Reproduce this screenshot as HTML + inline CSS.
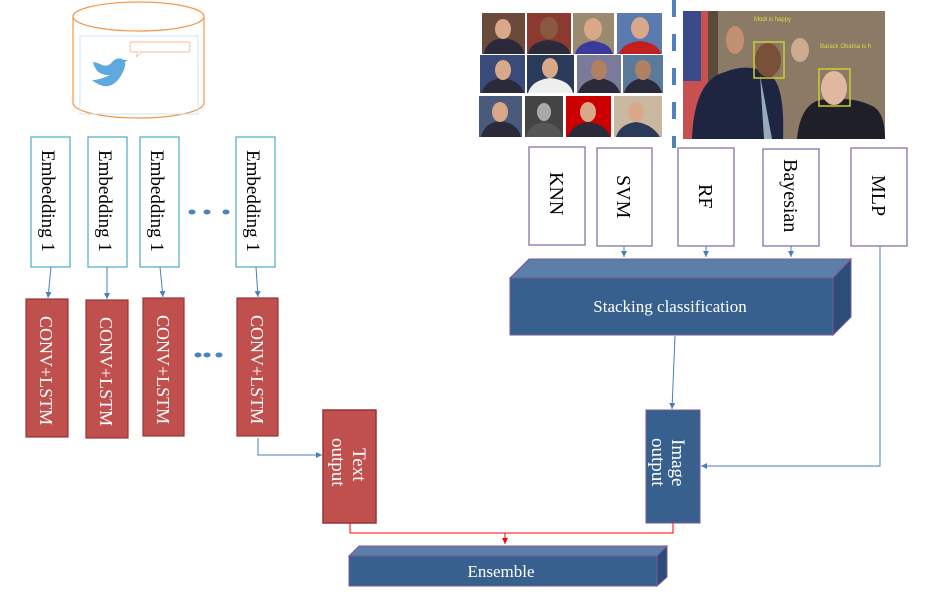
<!DOCTYPE html>
<html><head><meta charset="utf-8"><style>
body{margin:0;background:#fff;width:934px;height:594px;overflow:hidden}
</style></head><body>
<svg width="934" height="594" xmlns="http://www.w3.org/2000/svg" font-family="Liberation Serif, serif">
<defs>
<marker id="a" markerWidth="8" markerHeight="8" refX="6" refY="3" orient="auto" markerUnits="userSpaceOnUse"><path d="M0,0L6,3L0,6z" fill="#4a7ebb"/></marker>
<marker id="r" markerWidth="8" markerHeight="8" refX="6" refY="3" orient="auto" markerUnits="userSpaceOnUse"><path d="M0,0L6,3L0,6z" fill="#f00"/></marker>
</defs>
<!-- cylinder -->
<path d="M73,17 L73,103 A65.5,15 0 0 0 204,103 L204,17" fill="#fff" stroke="#f79646" stroke-width="1.2"/>
<ellipse cx="138.5" cy="16.5" rx="65.5" ry="14.5" fill="#fff" stroke="#f79646" stroke-width="1.2"/>
<rect x="80" y="36" width="118" height="78" fill="none" stroke="#cfe4f5" stroke-width="1"/>
<rect x="130" y="42" width="60" height="10" rx="2" fill="#fff" stroke="#f8b99a" stroke-width="1"/>
<path d="M138,52 L136,57 L142,52" fill="#fff" stroke="#f8b99a" stroke-width="0.8"/>
<path d="M93,62 Q96,76 110,75 Q100,80 92,80 Q110,95 122,74 Q126,66 125,62 L128,60 L124,60 Q118,56 112,62 Q108,68 100,64 Q95,62 93,62 Z" fill="#5ea9dd"/>
<!-- embeddings -->
<g fill="#fff" stroke="#4bacc6" stroke-width="1.2">
<rect x="31" y="137" width="39" height="130"/><rect x="88" y="137" width="39" height="130"/>
<rect x="140" y="137" width="39" height="130"/><rect x="236" y="137" width="39" height="130"/>
</g>
<g font-size="19" fill="#000">
<text transform="translate(42,150) rotate(90)">Embedding 1</text>
<text transform="translate(99,150) rotate(90)">Embedding 1</text>
<text transform="translate(151,150) rotate(90)">Embedding 1</text>
<text transform="translate(247,150) rotate(90)">Embedding 1</text>
</g>
<g fill="#4f81bd"><ellipse cx="192" cy="212" rx="3.5" ry="2.5"/><ellipse cx="207" cy="212" rx="3.5" ry="2.5"/><ellipse cx="226" cy="212" rx="3.5" ry="2.5"/>
<ellipse cx="198" cy="355" rx="3.5" ry="2.5"/><ellipse cx="207" cy="355" rx="3.5" ry="2.5"/><ellipse cx="219" cy="355" rx="3.5" ry="2.5"/></g>
<g stroke="#4a7ebb" stroke-width="1" fill="none" marker-end="url(#a)">
<line x1="51" y1="267" x2="48" y2="298"/><line x1="107" y1="267" x2="107" y2="299"/>
<line x1="160" y1="267" x2="163" y2="297"/><line x1="256" y1="267" x2="258" y2="297"/>
<polyline points="258,438 258,455 322,455"/>
</g>
<!-- CONV -->
<g fill="#c0504d" stroke="#943634" stroke-width="1.2">
<rect x="26" y="299" width="42" height="138"/><rect x="86" y="300" width="42" height="138"/>
<rect x="143" y="298" width="41" height="138"/><rect x="237" y="298" width="41" height="138"/>
<rect x="323" y="410" width="53" height="113" stroke-width="1.5"/>
</g>
<g font-size="18" fill="#fff">
<text transform="translate(40,316) rotate(90)">CONV+LSTM</text>
<text transform="translate(100,317) rotate(90)">CONV+LSTM</text>
<text transform="translate(157,315) rotate(90)">CONV+LSTM</text>
<text transform="translate(251,315) rotate(90)">CONV+LSTM</text>
<text transform="translate(353,448) rotate(90)" font-size="19">Text</text>
<text transform="translate(332,438) rotate(90)" font-size="19">output</text>
</g>
<!-- photos grid -->
<g>
<rect x="482" y="13" width="43" height="41" fill="#6a4a3a"/><rect x="527" y="13" width="44" height="41" fill="#8a3a30"/>
<rect x="573" y="13" width="41" height="41" fill="#9a8a70"/><rect x="617" y="13" width="45" height="41" fill="#5a7ab0"/>
<rect x="480" y="55" width="45" height="38" fill="#3a4a7a"/><rect x="527" y="55" width="47" height="38" fill="#2a3a5a"/>
<rect x="577" y="55" width="44" height="38" fill="#7a7a9a"/><rect x="623" y="55" width="40" height="38" fill="#5a7a9a"/>
<rect x="479" y="96" width="43" height="41" fill="#4a5a7a"/><rect x="525" y="96" width="38" height="41" fill="#444"/>
<rect x="566" y="96" width="45" height="41" fill="#c00"/><rect x="614" y="96" width="48" height="41" fill="#c8b8a0"/>
<g fill="#2a2a3a">
<path d="M484,54 Q486,40 503,38 Q522,40 524,54z"/><path d="M528,54 Q530,42 548,40 Q568,42 570,54z"/>
<path d="M575,54 Q578,43 593,41 Q610,43 613,54z" fill="#3a3a9a"/><path d="M619,54 Q622,43 640,41 Q658,43 661,54z" fill="#c02020"/>
<path d="M482,93 Q485,80 502,78 Q520,80 524,93z"/><path d="M528,93 Q532,80 550,78 Q570,80 573,93z" fill="#eee"/>
<path d="M578,93 Q582,80 599,78 Q616,80 620,93z"/><path d="M624,93 Q628,80 643,78 Q658,80 662,93z"/>
<path d="M481,137 Q484,123 500,121 Q518,123 521,137z"/><path d="M526,137 Q529,124 544,122 Q560,124 562,137z" fill="#555"/>
<path d="M568,137 Q572,124 588,122 Q606,124 610,137z"/><path d="M616,137 Q620,124 636,122 Q652,124 660,137z" fill="#2a3a5a"/>
</g>
<g fill="#d9a888">
<ellipse cx="503" cy="29" rx="8" ry="10"/><ellipse cx="549" cy="28" rx="9" ry="11" fill="#8a5a40"/><ellipse cx="593" cy="29" rx="9" ry="11"/><ellipse cx="640" cy="28" rx="9" ry="11"/>
<ellipse cx="503" cy="70" rx="8" ry="10"/><ellipse cx="550" cy="68" rx="8" ry="10"/><ellipse cx="599" cy="70" rx="8" ry="10" fill="#b08060"/><ellipse cx="643" cy="70" rx="8" ry="10" fill="#b08060"/>
<ellipse cx="500" cy="112" rx="8" ry="10"/><ellipse cx="544" cy="112" rx="7" ry="9" fill="#aaa"/><ellipse cx="588" cy="112" rx="8" ry="10"/><ellipse cx="636" cy="112" rx="8" ry="10"/>
</g>
</g>
<!-- dashed line -->
<line x1="674" y1="0" x2="674" y2="148" stroke="#4f81bd" stroke-width="4" stroke-dasharray="17,17"/>
<!-- big photo -->
<rect x="683" y="11" width="202" height="128" fill="#8a7a66"/>
<rect x="683" y="11" width="26" height="128" fill="#c85050"/>
<rect x="683" y="11" width="18" height="70" fill="#3a4a8a"/>
<rect x="708" y="11" width="10" height="128" fill="#5a4a3a"/>
<path d="M692,139 Q694,80 725,72 Q750,62 770,75 Q785,85 783,139z" fill="#1e2540"/>
<path d="M760,75 L772,139 L764,139 Z" fill="#9ab"/>
<path d="M797,139 Q800,105 820,100 Q850,96 870,105 Q885,110 885,139z" fill="#1f1f2a"/>
<ellipse cx="768" cy="60" rx="13" ry="17" fill="#7a5038"/>
<ellipse cx="834" cy="88" rx="13" ry="17" fill="#e0b8a0"/>
<ellipse cx="800" cy="50" rx="9" ry="12" fill="#ceaa90"/>
<ellipse cx="735" cy="40" rx="9" ry="14" fill="#c09070"/>
<rect x="754" y="42" width="30" height="36" fill="none" stroke="#cccc30" stroke-width="1.5"/>
<rect x="819" y="69" width="31" height="37" fill="none" stroke="#cccc30" stroke-width="1.5"/>
<text x="754" y="21" font-family="Liberation Sans, sans-serif" font-size="6" fill="#dddd40">Modi is happy</text>
<text x="820" y="48" font-family="Liberation Sans, sans-serif" font-size="6" fill="#dddd40">Barack Obama is h</text>
<!-- classifiers -->
<g fill="#fff" stroke="#8064a2" stroke-width="1.2">
<rect x="529" y="147" width="56" height="98"/><rect x="597" y="148" width="55" height="98"/>
<rect x="678" y="148" width="56" height="98"/><rect x="763" y="149" width="56" height="97"/>
<rect x="851" y="148" width="56" height="98"/>
</g>
<g font-size="20" fill="#000">
<text transform="translate(550,172) rotate(90)">KNN</text>
<text transform="translate(617,175) rotate(90)">SVM</text>
<text transform="translate(699,184) rotate(90)">RF</text>
<text transform="translate(784,159) rotate(90)">Bayesian</text>
<text transform="translate(872,175) rotate(90)">MLP</text>
</g>
<g stroke="#4a7ebb" stroke-width="1" fill="none" marker-end="url(#a)">
<line x1="624" y1="246" x2="624" y2="257"/><line x1="706" y1="246" x2="706" y2="257"/><line x1="791" y1="246" x2="791" y2="257"/>
<polyline points="880,246 880,466 701,466"/>
<line x1="675" y1="336" x2="672" y2="409"/>
</g>
<!-- stacking -->
<polygon points="510,278 529,259 851,259 833,278" fill="#5b7fa8" stroke="#7a5a9a" stroke-width="1"/>
<polygon points="833,278 851,259 851,317 833,335" fill="#2c4d77" stroke="#7a5a9a" stroke-width="1"/>
<rect x="510" y="278" width="323" height="57" fill="#37608f" stroke="#7a5a9a" stroke-width="1"/>
<text x="670" y="312" text-anchor="middle" font-size="17" fill="#fff">Stacking classification</text>
<!-- image output -->
<rect x="646" y="410" width="54" height="113" fill="#37608f" stroke="#7a5a9a" stroke-width="1"/>
<text transform="translate(672,439) rotate(90)" font-size="19" fill="#fff">Image</text>
<text transform="translate(652,438) rotate(90)" font-size="19" fill="#fff">output</text>
<!-- red connectors -->
<polyline points="350,523 350,533 673,533 673,523" fill="none" stroke="#f00" stroke-width="1"/>
<line x1="505" y1="533" x2="505" y2="544" stroke="#f00" stroke-width="1" marker-end="url(#r)"/>
<!-- ensemble -->
<polygon points="349,556 359,546 667,546 657,556" fill="#5b7fa8" stroke="#7a5a9a" stroke-width="1"/>
<polygon points="657,556 667,546 667,577 657,586" fill="#2c4d77" stroke="#7a5a9a" stroke-width="1"/>
<rect x="349" y="556" width="308" height="30" fill="#37608f" stroke="#7a5a9a" stroke-width="1"/>
<text x="501" y="577" text-anchor="middle" font-size="17" fill="#fff">Ensemble</text>
</svg>
</body></html>
